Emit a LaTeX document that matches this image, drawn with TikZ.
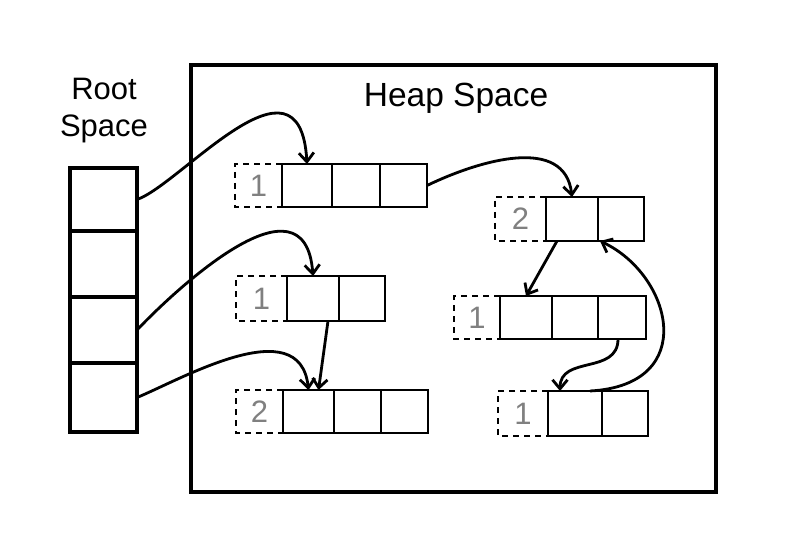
\documentclass[tikz,border=0pt]{standalone}
\usepackage{fontspec}
\setmainfont{Liberation Sans}
\usetikzlibrary{arrows.meta}
\begin{document}
\begin{tikzpicture}[x=1pt,y=-1pt,
  cell/.style={draw, line width=2.8pt, inner sep=0pt, outer sep=0pt, anchor=north west},
  lab/.style={inner sep=0pt, outer sep=0pt, anchor=north west, text=black!50, font=\fontsize{31}{31}\selectfont},
  dashbox/.style={line width=2.8pt, dash pattern=on 6pt off 5pt},
  rootcell/.style={draw, line width=4.5pt, inner sep=0pt, outer sep=0pt, anchor=north west, minimum width=67pt},
  ptr/.style={line width=2.8pt, -{Straight Barb[length=9pt,width=15pt]}},
  title/.style={font=\fontsize{31}{37}\selectfont, align=center}
]
\useasboundingbox (0,0) rectangle (789,545);
\fill[white] (0,0) rectangle (789,545);

% heap box
\node[draw, line width=4.5pt, inner sep=0pt, outer sep=0pt, anchor=north west,
  minimum width=525pt, minimum height=427pt] (heap) at (191,65) {};
\node[title, font=\fontsize{33.5}{37}\selectfont] (heaptitle) at (456,98) {Heap Space};
\node[title] (roottitle) at (104,111) {Root\\Space};

% root cells
\node[rootcell, minimum height=63pt] (r1) at (70,168) {};
\node[rootcell, minimum height=66pt] (r2) at (70,231) {};
\node[rootcell, minimum height=66pt] (r3) at (70,297) {};
\node[rootcell, minimum height=69pt] (r4) at (70,363) {};

% object A
\node[lab, minimum width=47pt, minimum height=43pt] (la) at (235,164) {1};
\node[cell, minimum width=50pt, minimum height=43pt] (a1) at (282,164) {};
\node[cell, minimum width=48pt, minimum height=43pt] (a2) at (332,164) {};
\node[cell, minimum width=47pt, minimum height=43pt] (a3) at (380,164) {};
\draw[dashbox] (a1.north west) -- (la.north west) -- (la.south west) -- (a1.south west);

% object B
\node[lab, minimum width=51pt, minimum height=45pt] (lb) at (236,276) {1};
\node[cell, minimum width=52pt, minimum height=45pt] (b1) at (287,276) {};
\node[cell, minimum width=46pt, minimum height=45pt] (b2) at (339,276) {};
\draw[dashbox] (b1.north west) -- (lb.north west) -- (lb.south west) -- (b1.south west);

% object C
\node[lab, minimum width=47pt, minimum height=43pt] (lc) at (236,390) {2};
\node[cell, minimum width=51pt, minimum height=43pt] (c1) at (283,390) {};
\node[cell, minimum width=47pt, minimum height=43pt] (c2) at (334,390) {};
\node[cell, minimum width=47pt, minimum height=43pt] (c3) at (381,390) {};
\draw[dashbox] (c1.north west) -- (lc.north west) -- (lc.south west) -- (c1.south west);

% object D
\node[lab, minimum width=51pt, minimum height=44pt] (ld) at (495,197) {2};
\node[cell, minimum width=52pt, minimum height=44pt] (d1) at (546,197) {};
\node[cell, minimum width=46pt, minimum height=44pt] (d2) at (598,197) {};
\draw[dashbox] (d1.north west) -- (ld.north west) -- (ld.south west) -- (d1.south west);

% object E
\node[lab, minimum width=46pt, minimum height=43pt] (le) at (454,296) {1};
\node[cell, minimum width=52pt, minimum height=43pt] (e1) at (500,296) {};
\node[cell, minimum width=46pt, minimum height=43pt] (e2) at (552,296) {};
\node[cell, minimum width=48pt, minimum height=43pt] (e3) at (598,296) {};
\draw[dashbox] (e1.north west) -- (le.north west) -- (le.south west) -- (e1.south west);

% object F
\node[lab, minimum width=50pt, minimum height=45pt] (lf) at (498,391) {1};
\node[cell, minimum width=54pt, minimum height=45pt] (f1) at (548,391) {};
\node[cell, minimum width=46pt, minimum height=45pt] (f2) at (602,391) {};
\draw[dashbox] (f1.north west) -- (lf.north west) -- (lf.south west) -- (f1.south west);

% pointers
\draw[ptr] (r1.east) .. controls +(43,-14.5) and +(-7,-124) .. (a1.north);
\draw[ptr] (r3.east) .. controls +(38,-40) and +(-8,-108) .. (b1.north);
\draw[ptr] (r4.east) .. controls +(43,-17.5) and +(-8.5,-80) .. (c1.north);
\draw[ptr] ([xshift=15pt]b1.south) -- ([xshift=10pt]c1.north);
\draw[ptr] (a3.east) .. controls +(53,-25.5) and +(-7,-62) .. (d1.north);
\draw[ptr] ([xshift=-15pt]d1.south) -- (e1.north);
\draw[ptr] ([xshift=-4pt]e3.south) .. controls +(0,36) and +(0,-36) .. ([xshift=-15pt]f1.north);
\draw[ptr] ([xshift=15pt]f1.north) .. controls +(110,-6) and +(72,34) .. ([xshift=2pt]d1.south east);
\end{tikzpicture}
\end{document}
